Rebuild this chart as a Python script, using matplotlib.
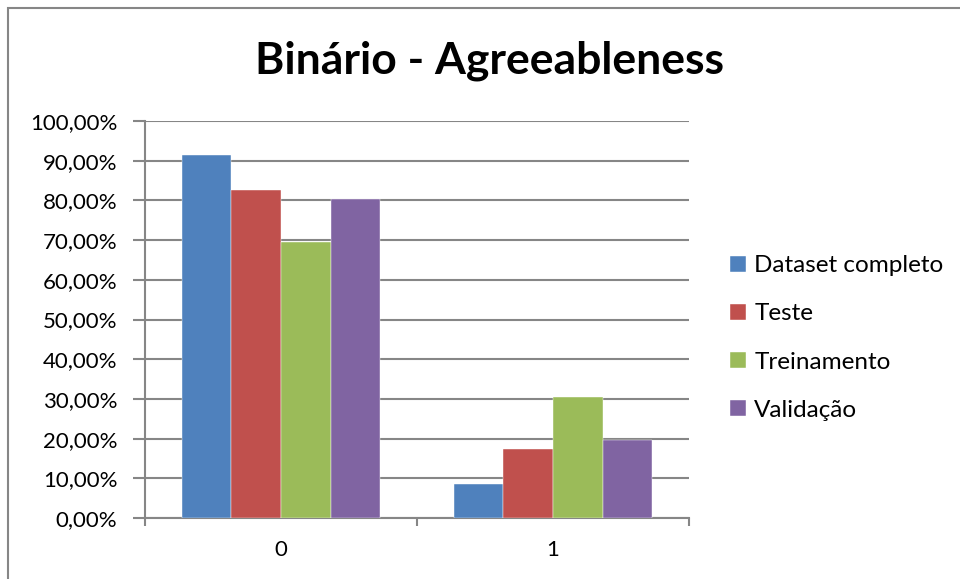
import matplotlib
matplotlib.use('Agg')
from matplotlib import pyplot as plt
from matplotlib.patches import Rectangle
import numpy as np

# dados do grafico
categorias = ['0', '1']
series = ['Dataset completo', 'Teste', 'Treinamento', 'Validação']
dataset_completo = [91.5, 8.5]
teste = [82.7, 17.3]
treinamento = [69.4, 30.6]
validacao = [80.4, 19.6]
cores = ['#4F81BD', '#C0504D', '#9BBB59', '#8064A2']
yticks = [0, 10, 20, 30, 40, 50, 60, 70, 80, 90, 100]

plt.rcParams['font.family'] = ['Lato', 'DejaVu Sans']

fig = plt.figure(figsize=(9.6, 5.79), dpi=100)
ax = fig.add_axes([145/960, 1-518/579, (689-145)/960, (518-121)/579])

# borda do grafico (so esquerda e topo aparecem)
fig.patches.append(Rectangle((8/960, -0.1), 1.2, 1-8/579+0.1, transform=fig.transFigure,
                             fill=False, edgecolor='#868686', linewidth=1.5))

x = np.arange(len(categorias))
w = 0.182
valores = [dataset_completo, teste, treinamento, validacao]
for i, (nome, v) in enumerate(zip(series, valores)):
    ax.bar(x + (i - 1.5) * w, v, w, color=cores[i], label=nome,
           edgecolor='white', linewidth=0.3, zorder=3)

ax.set_xlim(-0.5, 1.5)
ax.set_ylim(0, 100)
ax.set_yticks(yticks)
ax.set_yticklabels(['%d,00%%' % t for t in yticks], fontsize=16)
ax.yaxis.grid(True, color='#868686', linewidth=1.5, zorder=0)
ax.set_axisbelow(True)

ax.set_xticks([-0.5, 0.5, 1.5])
ax.set_xticklabels(['', '', ''])
ax.set_xticks(x, minor=True)
ax.set_xticklabels(categorias, minor=True, fontsize=16)
ax.tick_params(axis='x', which='minor', length=0, pad=16)
ax.tick_params(axis='x', which='major', length=6, width=1.5, color='#868686')
ax.tick_params(axis='y', length=9, width=1.5, color='#868686', pad=11)

for s in ['top', 'right']:
    ax.spines[s].set_visible(False)
for s in ['left', 'bottom']:
    ax.spines[s].set_color('#868686')
    ax.spines[s].set_linewidth(1.5)

fig.text(490/960, 1-61/579, 'Binário - Agreeableness', ha='center', va='center',
         fontsize=32, fontweight='bold')

fig.legend(loc='center left', bbox_to_anchor=(708/960, 1-338/579), frameon=False,
           fontsize=17.5, handlelength=0.65, handleheight=0.65, handletextpad=0.35,
           labelspacing=1.12)

fig.savefig('out.png', dpi=100)
